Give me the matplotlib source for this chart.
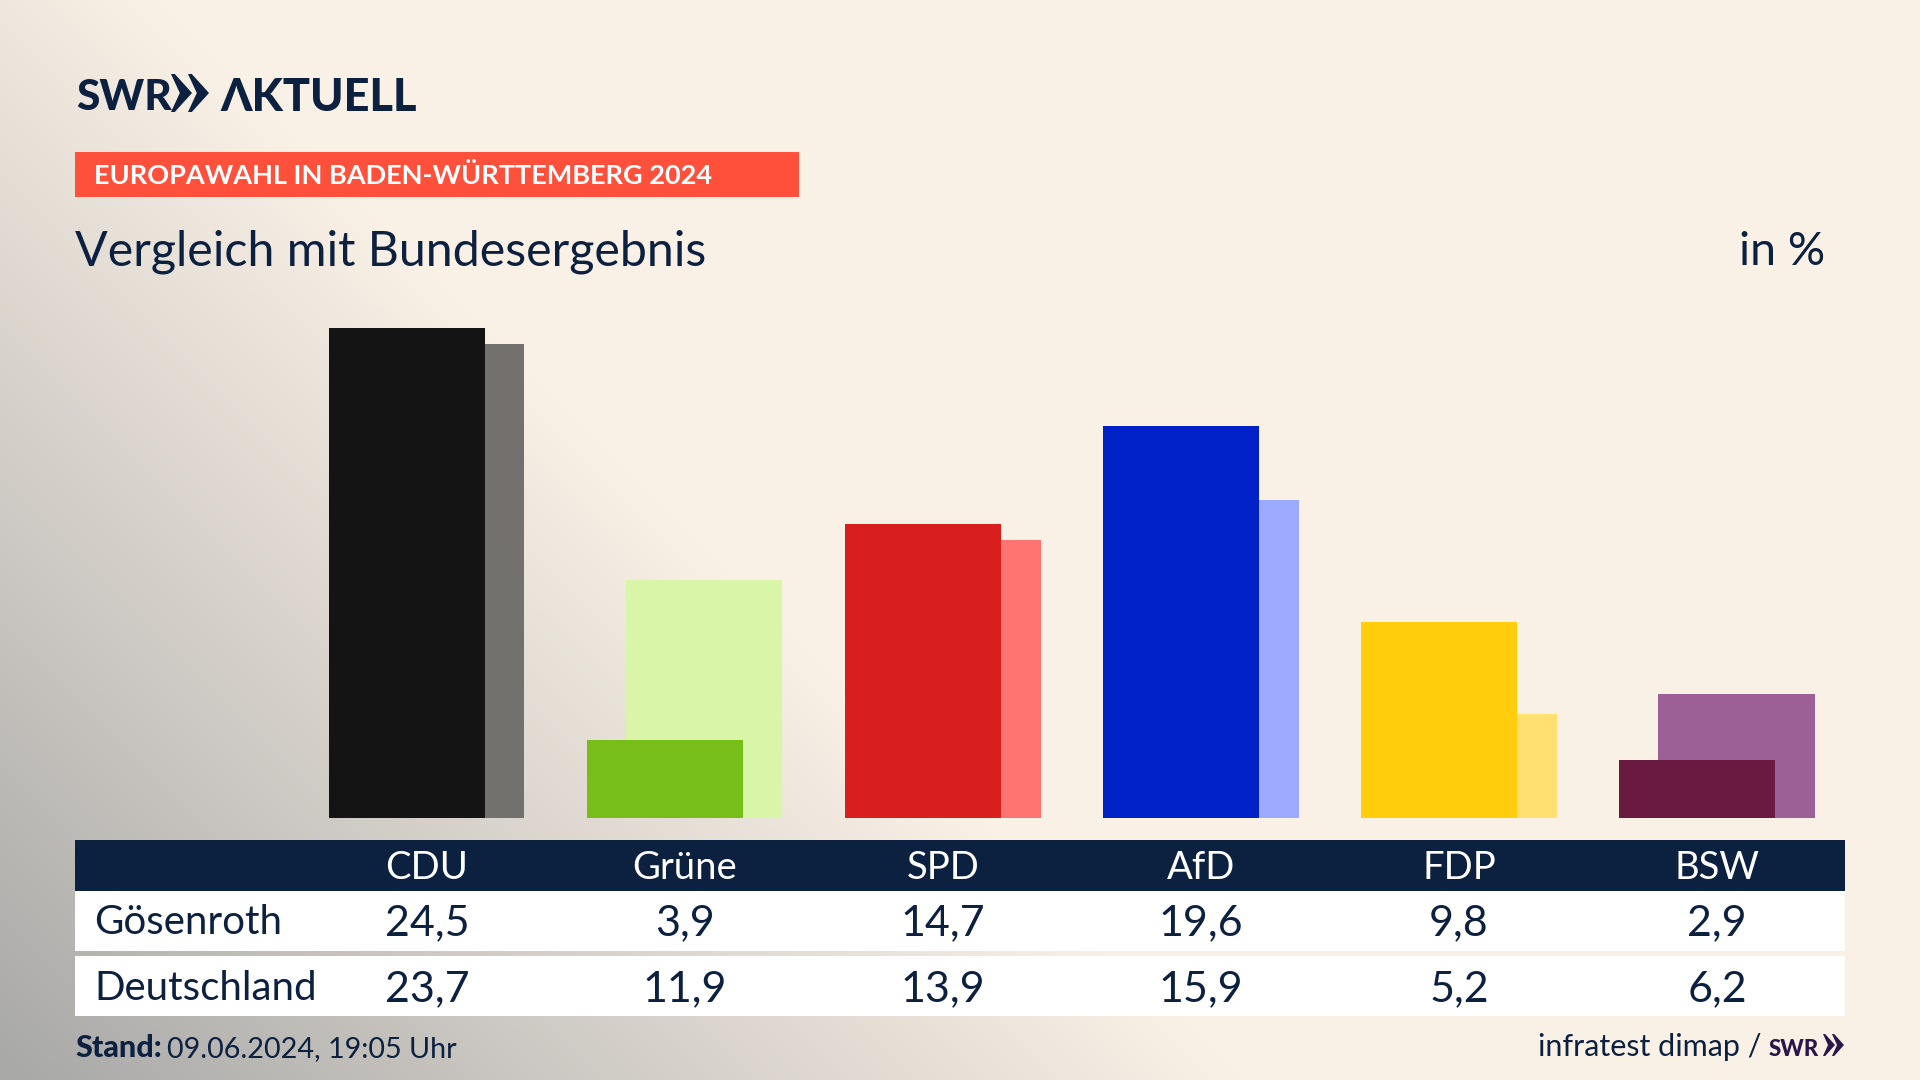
import numpy as np
import matplotlib
matplotlib.use("Agg")
import matplotlib.pyplot as plt
from matplotlib.colors import LinearSegmentedColormap
from matplotlib.patches import Rectangle, Polygon

parties = ["CDU", "Grüne", "SPD", "AfD", "FDP", "BSW"]
goesenroth = [24.5, 3.9, 14.7, 19.6, 9.8, 2.9]
deutschland = [23.7, 11.9, 13.9, 15.9, 5.2, 6.2]
front_colors = ["#141414", "#78BE1A", "#D91F1E", "#0021C8", "#FFCD0C", "#6A1A40"]
back_colors = ["#73716E", "#D8F5A8", "#FF7371", "#9CABFF", "#FFE070", "#9C6097"]
row_names = ["Gösenroth", "Deutschland"]

NAVY = "#0C2040"
CREAM = "#FAF1E6"
FONT = "Lato"
W, H = 1920, 1080
plt.rcParams["font.family"] = FONT

fig = plt.figure(figsize=(W / 100, H / 100), dpi=100, facecolor=CREAM)

# background gradient
bg = fig.add_axes([0, 0, 1, 1], zorder=0)
yy, xx = np.mgrid[0:1:270j, 0:1:480j]
r = xx / 0.65 + (1 - yy) / 1.15
t = np.clip(1 - r, 0, 1)
cmap = LinearSegmentedColormap.from_list("bg", [CREAM, "#A8A8A7"])
bg.imshow(t, cmap=cmap, vmin=0, vmax=1, aspect="auto", extent=(0, W, H, 0))
bg.set_xlim(0, W)
bg.set_ylim(H, 0)
bg.axis("off")

# overlay in pixel coordinates
ov = fig.add_axes([0, 0, 1, 1], zorder=3)
ov.set_xlim(0, W)
ov.set_ylim(H, 0)
ov.axis("off")
ov.patch.set_alpha(0)


def chevrons(x0, y0, y1, w, gap, color):
    ym = (y0 + y1) / 2
    for i in range(2):
        x = x0 + i * gap
        ov.add_patch(Polygon([(x, y0), (x + 0.18 * w, y0), (x + w, ym), (x + 0.18 * w, y1), (x, y1), (x + 0.42 * w, ym)],
                             closed=True, fc=color, ec="none"))


def label(x, y, s, size, color=NAVY, weight="normal", ha="left"):
    return ov.text(x, y, s, fontsize=size, color=color, fontweight=weight, ha=ha, va="baseline")


# logo
label(76, 110, "SWR", 30.5, weight=900)
chevrons(171, 74, 112, 21, 17, NAVY)
label(220, 111, "ΛKTUELL", 32.5, weight=900)

# kicker
ov.add_patch(Rectangle((75, 152), 724, 45, fc="#FF503C", ec="none"))
label(94, 184.5, "EUROPAWAHL IN BADEN-WÜRTTEMBERG 2024", 19.5, color="white", weight="bold")

# title
label(75, 265, "Vergleich mit Bundesergebnis", 34.8)
label(1825, 265, "in %", 33.5, ha="right")

# bars
ax = fig.add_axes([75 / W, (H - 817.7) / H, 1770 / W, 518 / H], zorder=2)
ax.set_xlim(-1.364, 5.496)
ax.set_ylim(0, 25.9)
ax.axis("off")
ax.patch.set_alpha(0)
x = np.arange(len(parties))
ax.bar(x + 0.0755, deutschland, width=0.605, color=back_colors, zorder=1)
ax.bar(x - 0.0765, goesenroth, width=0.605, color=front_colors, zorder=2)

# table
ov.add_patch(Rectangle((75, 840), 1770, 51, fc=NAVY, ec="none"))
ov.add_patch(Rectangle((75, 891), 1770, 60, fc="white", ec="none"))
ov.add_patch(Rectangle((75, 956), 1770, 60, fc="white", ec="none"))
centers = 427 + 258 * x
for cx, name, a, b in zip(centers, parties, goesenroth, deutschland):
    label(cx, 879, name, 27.5, color="white", ha="center")
    label(cx, 935, f"{a:.1f}".replace(".", ","), 31, ha="center")
    label(cx, 1001, f"{b:.1f}".replace(".", ","), 31, ha="center")
label(94, 934, row_names[0], 29)
label(94, 1000, row_names[1], 29)

# footer
label(75, 1057, "Stand:", 22, weight=900)
label(167, 1057, "09.06.2024, 19:05 Uhr", 20.7)
label(1761, 1056, "infratest dimap /", 22, ha="right")
label(1769, 1056, "SWR", 16, color="#2A1648", weight=900)
chevrons(1823, 1034, 1056, 12, 9, "#2A1648")

fig.savefig("out.png", dpi=100, facecolor=CREAM)
